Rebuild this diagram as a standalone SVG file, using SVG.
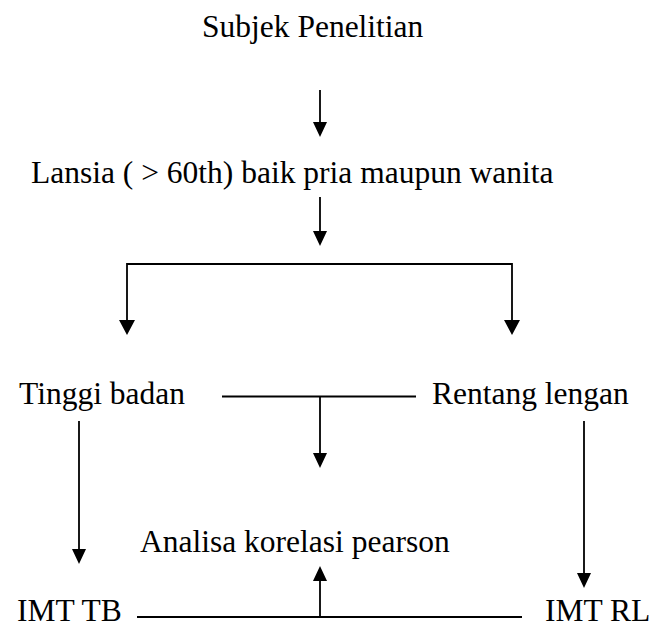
<svg xmlns="http://www.w3.org/2000/svg" width="652" height="628" viewBox="0 0 652 628">
<defs>
<style>
.t{font-family:'Liberation Serif','Times New Roman','DejaVu Serif',serif;font-size:31.5px;fill:#000}
.c{fill:none;stroke:#000;stroke-width:1.8}
</style>
</defs>
<rect width="652" height="628" fill="#fff"/>
<g id="n-subjek"><text class="t" x="202" y="37">Subjek Penelitian</text></g>
<g id="n-lansia"><text class="t" x="31" y="183">Lansia ( &gt; 60th) baik pria maupun wanita</text></g>
<g id="n-tinggi"><text class="t" x="19" y="404">Tinggi badan</text></g>
<g id="n-rentang"><text class="t" x="432" y="404">Rentang lengan</text></g>
<g id="n-analisa"><text class="t" x="140" y="552">Analisa korelasi pearson</text></g>
<g id="n-imttb"><text class="t" x="17" y="621">IMT TB</text></g>
<g id="n-imtrl"><text class="t" x="545" y="621">IMT RL</text></g>
<g id="connectors">
<path class="c" d="M320,90 V122"/><path d="M313,122 H327 L320,137 Z"/>
<path class="c" d="M320,197 V231"/><path d="M313,231 H327 L320,246 Z"/>
<path class="c" d="M127,320 V264 H512 V320"/>
<path d="M119,320 H135 L127,335 Z"/><path d="M504,320 H520 L512,335 Z"/>
<path class="c" d="M222,396.5 H416 M320,396.5 V453"/><path d="M313,453 H327 L320,468 Z"/>
<path class="c" d="M79,421 V549"/><path d="M72,549 H86 L79,564 Z"/>
<path class="c" d="M584,421 V573"/><path d="M577,573 H591 L584,588 Z"/>
<path class="c" d="M137,617 H522 M320,617 V581"/><path d="M313,581 H327 L320,566 Z"/>
</g>
</svg>
